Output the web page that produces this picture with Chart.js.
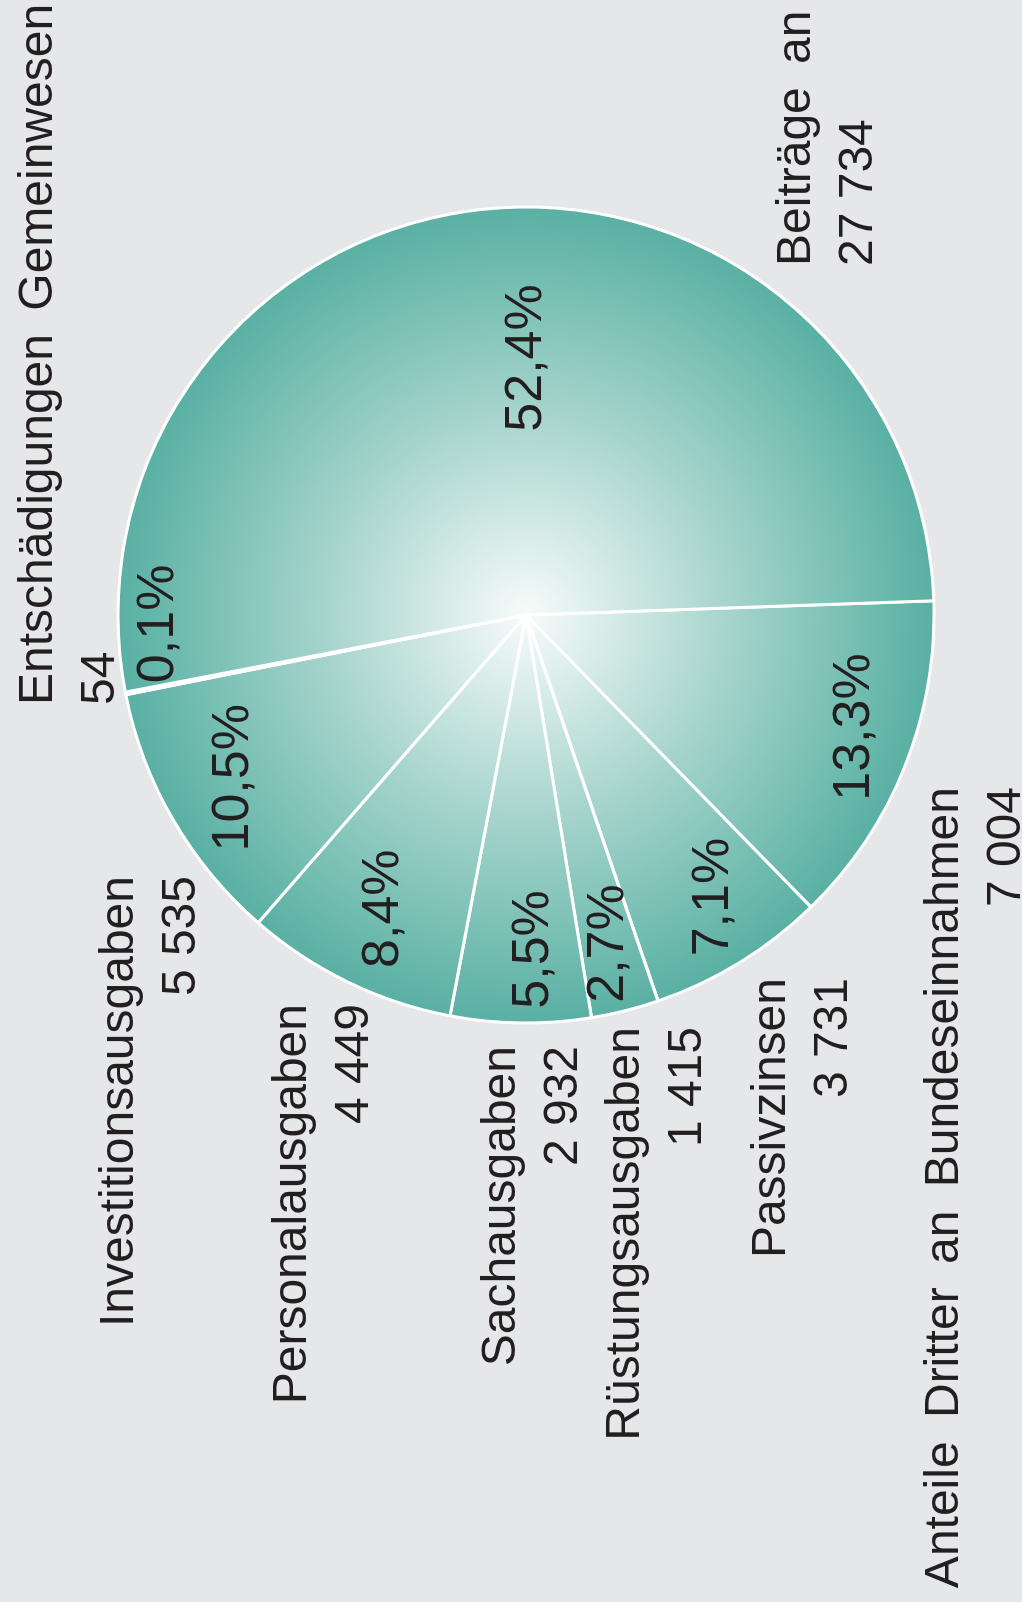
<!DOCTYPE html>
<html>
<head>
<meta charset="utf-8">
<title>Ausgaben nach Sachgruppen</title>
<script src="https://cdn.jsdelivr.net/npm/chart.js"></script>
<style>
    html, body { margin: 0; padding: 0; background: #e6e7e9; overflow: hidden; }
    /* chart is laid out landscape and turned a quarter to the left */
    #wrap {
        position: absolute; left: 0; top: 0;
        width: 1602px; height: 1022px;
        transform-origin: 0 0;
        transform: translate(0, 1602px) rotate(-90deg);
    }
</style>
</head>
<body>
<div id="wrap"><canvas id="pie" width="1602" height="1022"></canvas></div>
<script>
    // data (Mio. Fr.)
    var categories = ['Anteile Dritter an Bundeseinnahmen', 'Passivzinsen', 'Rüstungsausgaben', 'Sachausgaben',
                      'Personalausgaben', 'Investitionsausgaben', 'Entschädigungen Gemeinwesen', 'Beiträge an Dritte'];
    var amounts = [7004, 3731, 1415, 2932, 4449, 5535, 54, 27734];
    var shares = [13.3, 7.1, 2.7, 5.5, 8.4, 10.5, 0.1, 52.4];

    // layout only: where the name/value blocks sit (landscape frame)
    var labelPos = [
        {x: 815, y: 958, align: 'right'},
        {x: 624, y: 785, align: 'right'},
        {x: 575, y: 639, align: 'right'},
        {x: 556, y: 515, align: 'right'},
        {x: 598, y: 306, align: 'right'},
        {x: 726, y: 133, align: 'right'},
        {x: 897, y: 52, align: 'left'},
        {x: 1336, y: 810, align: 'left'}
    ];
    // percent label: fraction of radius, angle nudge in degrees
    var pctPlace = [[0.85, -3], [0.83, -2], [0.83, 0], [0.82, -2], [0.80, 0], [0.82, 1], [0.90, 9.7], [0.63, 6.7]];

    var FONT = '48px "Liberation Sans", Arial, sans-serif';
    var PCT_FONT = '52px "Liberation Sans", Arial, sans-serif';
    var TEXT = '#231f20';
    var lineGap = 62;

    var cx = 987, cy = 526, R = 408, bw = 3;

    function fmt(n) {
        return String(n).replace(/\B(?=(\d{3})+(?!\d))/g, ' ');
    }

    function fill(context) {
        var area = context.chart.chartArea;
        if (!area) return '#5ab1a4';
        var x = (area.left + area.right) / 2, y = (area.top + area.bottom) / 2;
        var g = context.chart.ctx.createRadialGradient(x, y, 0, x, y, R);
        g.addColorStop(0, '#f8fbfa');
        g.addColorStop(0.5, '#a5d4cc');
        g.addColorStop(1, '#59b0a3');
        return g;
    }

    var labelPlugin = {
        id: 'labels',
        afterDatasetsDraw: function(chart) {
            var ctx = chart.ctx;
            var arcs = chart.getDatasetMeta(0).data;
            ctx.save();
            ctx.fillStyle = TEXT;

            // percentages inside the slices
            ctx.font = PCT_FONT;
            ctx.textAlign = 'center';
            ctx.textBaseline = 'middle';
            arcs.forEach(function(arc, i) {
                var p = arc.getProps(['x', 'y', 'startAngle', 'endAngle', 'outerRadius'], true);
                var a = (p.startAngle + p.endAngle) / 2 + pctPlace[i][1] * Math.PI / 180;
                var r = p.outerRadius * pctPlace[i][0];
                var t = shares[i].toFixed(1).replace('.', ',') + '%';
                ctx.fillText(t, p.x + Math.cos(a) * r, p.y + Math.sin(a) * r);
            });

            // names and amounts
            ctx.font = FONT;
            ctx.textBaseline = 'alphabetic';
            categories.forEach(function(name, i) {
                var lp = labelPos[i];
                ctx.textAlign = lp.align;
                ctx.wordSpacing = '10px';
                ctx.fillText(name, lp.x, lp.y);
                ctx.wordSpacing = '0px';
                ctx.fillText(fmt(amounts[i]), lp.x, lp.y + lineGap);
            });
            ctx.restore();
        }
    };

    var canvas = document.getElementById('pie');
    new Chart(canvas, {
        type: 'pie',
        data: {
            labels: categories,
            datasets: [{
                data: amounts,
                backgroundColor: fill,
                borderColor: '#ffffff',
                borderWidth: bw
            }]
        },
        options: {
            responsive: false,
            animation: false,
            events: [],
            rotation: 178,
            layout: {
                padding: {
                    left: cx - R - bw / 2,
                    right: canvas.width - cx - R - bw / 2,
                    top: cy - R - bw / 2,
                    bottom: canvas.height - cy - R - bw / 2
                }
            },
            plugins: {
                legend: { display: false },
                tooltip: { enabled: false }
            }
        },
        plugins: [labelPlugin]
    });
</script>
</body>
</html>
